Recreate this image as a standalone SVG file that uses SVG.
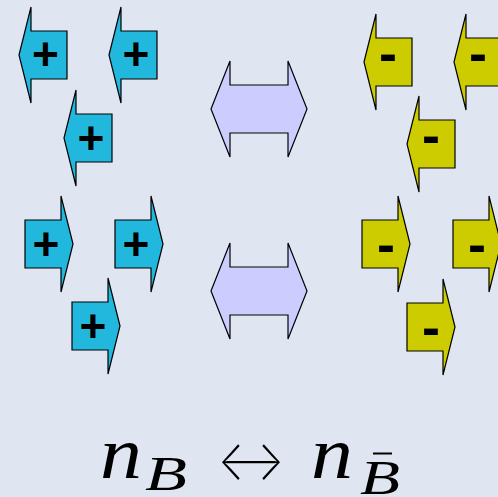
<svg xmlns="http://www.w3.org/2000/svg" width="498" height="497" viewBox="0 0 498 497">
<style>
.blue{fill:#22b8dd;stroke:#000;stroke-width:1.2;stroke-linejoin:miter}
.yel{fill:#cccc00;stroke:#000;stroke-width:1.2;stroke-linejoin:miter}
.dbl{fill:#ccccff;stroke:#000;stroke-width:1.2}
.sign{font-family:"Liberation Sans",Arial,sans-serif;font-weight:bold;font-size:46px;text-anchor:middle;fill:#000}
.minus{font-size:54px}
.m{font-family:"Liberation Serif","Times New Roman",serif;font-style:italic;fill:#000}
</style>
<defs>
<path id="la" d="M0,0 L12,-48 L12,-24 L48,-24 L48,24 L12,24 L12,48 Z"/>
<path id="ra" d="M0,0 L-12,-48 L-12,-24 L-48,-24 L-48,24 L-12,24 L-12,48 Z"/>
</defs>
<rect width="498" height="497" fill="#e0e6f1"/>
<g id="p1"><use href="#la" class="blue" x="19" y="55"/><text class="sign" x="45.5" y="70">+</text></g>
<g id="p2"><use href="#la" class="blue" x="109" y="55"/><text class="sign" x="136" y="70">+</text></g>
<g id="p3"><use href="#la" class="blue" x="64" y="138"/><text class="sign" x="91" y="154">+</text></g>
<g id="p4"><use href="#ra" class="blue" x="73" y="244"/><text class="sign" x="46" y="260">+</text></g>
<g id="p5"><use href="#ra" class="blue" x="163" y="244"/><text class="sign" x="136" y="260">+</text></g>
<g id="p6"><use href="#ra" class="blue" x="120" y="326"/><text class="sign" x="93" y="342">+</text></g>
<g id="m1"><use href="#la" class="yel" x="364" y="62"/><text class="sign minus" x="388" y="72">-</text></g>
<g id="m2"><use href="#la" class="yel" x="454" y="62"/><text class="sign minus" x="478" y="72">-</text></g>
<g id="m3"><use href="#la" class="yel" x="407" y="144"/><text class="sign minus" x="431" y="154">-</text></g>
<g id="m4"><use href="#ra" class="yel" x="410" y="244"/><text class="sign minus" x="386" y="263">-</text></g>
<g id="m5"><use href="#ra" class="yel" x="501" y="244"/><text class="sign minus" x="477" y="263">-</text></g>
<g id="m6"><use href="#ra" class="yel" x="455" y="327"/><text class="sign minus" x="431" y="346">-</text></g>
<g id="d1"><path class="dbl" d="M211,109 L230,61 L230,85 L288,85 L288,61 L307,109 L288,157 L288,133 L230,133 L230,157 Z"/></g>
<g id="d2"><path class="dbl" d="M211,291 L230,243 L230,267 L288,267 L288,243 L307,291 L288,339 L288,315 L230,315 L230,339 Z"/></g>
<g id="formula">
<text class="m" x="100" y="478" font-size="74" textLength="42" lengthAdjust="spacingAndGlyphs">n</text>
<text class="m" x="145" y="490" font-size="48" textLength="42" lengthAdjust="spacingAndGlyphs">B</text>
<text x="217" y="480" font-family="Inter,'DejaVu Sans',sans-serif" font-weight="200" font-size="56" textLength="68" lengthAdjust="spacingAndGlyphs">↔</text>
<text class="m" x="311" y="478" font-size="74" textLength="42" lengthAdjust="spacingAndGlyphs">n</text>
<text class="m" x="360" y="494" font-size="48" textLength="40" lengthAdjust="spacingAndGlyphs">B</text>
<line x1="373" y1="453.5" x2="392" y2="453.5" stroke="#000" stroke-width="2"/>
</g>
</svg>
